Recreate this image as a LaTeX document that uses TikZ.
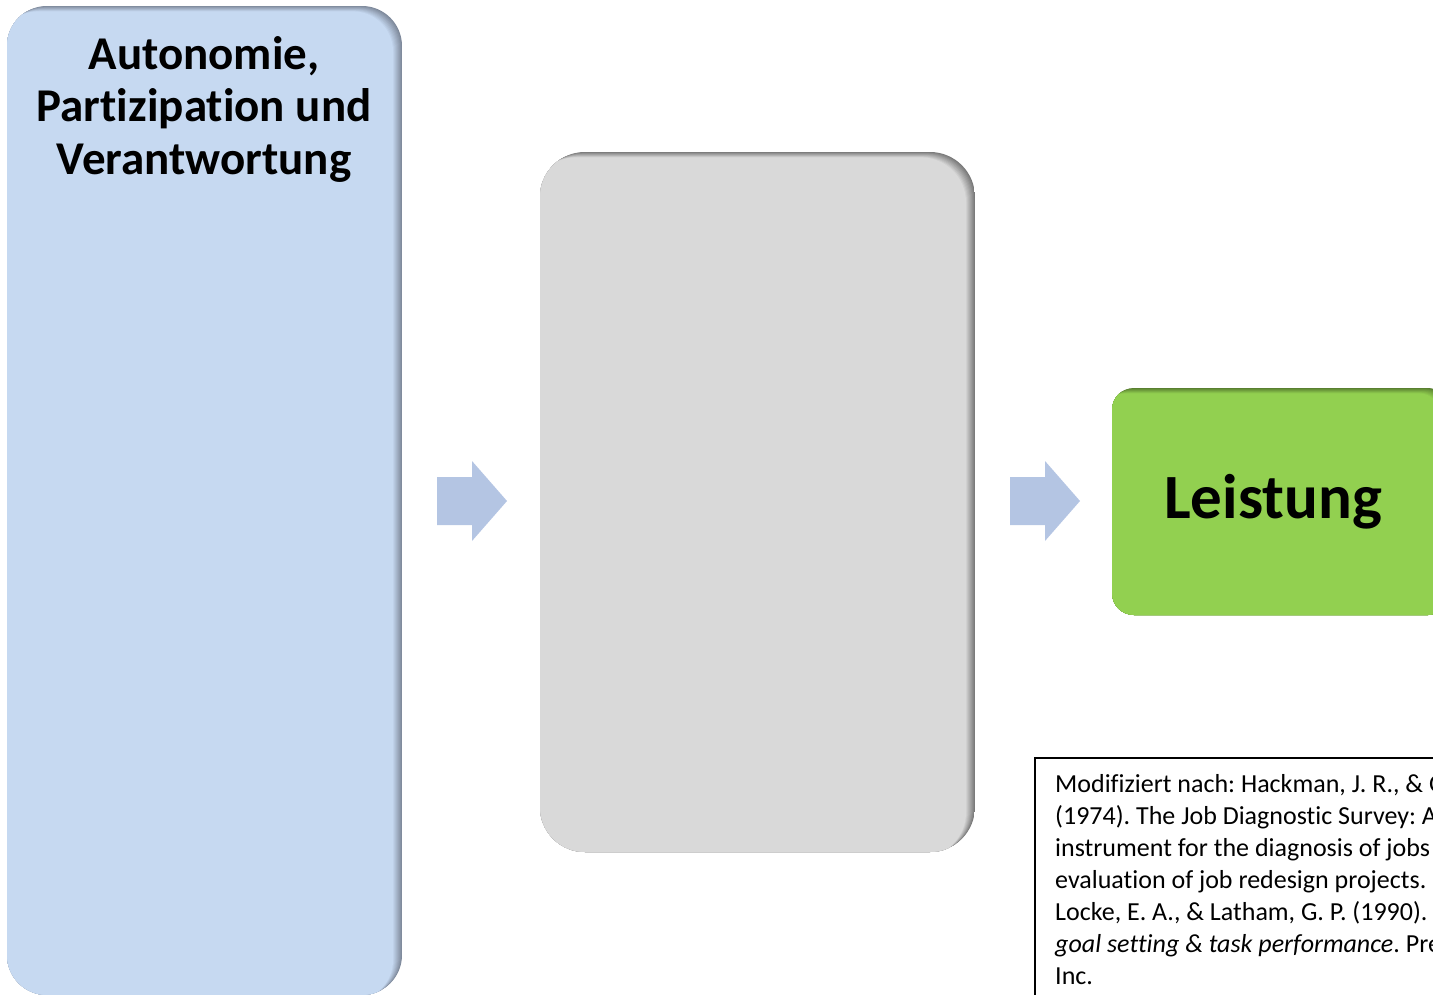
\documentclass[tikz,border=0pt]{standalone}
\usepackage{fontspec}
\setmainfont{Carlito}[Ligatures=NoCommon]
\usetikzlibrary{calc}
\frenchspacing
\definecolor{bluebox}{HTML}{C6D9F1}
\definecolor{blueedge}{HTML}{7F8A9C}
\definecolor{graybox}{HTML}{D9D9D9}
\definecolor{grayedge}{HTML}{7A7A7A}
\definecolor{greenbox}{HTML}{92D050}
\definecolor{greenedge}{HTML}{587D30}
\definecolor{arrowblue}{HTML}{B4C5E3}
\tikzset{
  box label/.style={inner sep=0pt, align=center, text=black},
  blockarrow/.style={fill=arrowblue, draw=none},
  citebox/.style={draw=black, line width=1.3pt, fill=white},
}
% shaded rounded box: #1 x0, #2 y0, #3 x1, #4 y1, #5 radius, #6 main, #7 edge
\newcommand{\shadedbox}[7]{%
  \begin{scope}
    \clip[rounded corners=#5] (#1,#2) rectangle (#3,#4);
    \fill[#7] (#1,#2) rectangle (#3,#4);
    \foreach \d in {1,...,9}{
      \pgfmathsetmacro{\mixp}{100*\d/9}
      \fill[#6!\mixp!#7, rounded corners=#5] ($(#1,#2)+(-\d,0.6*\d)$) rectangle ($(#3,#4)+(-\d,0.6*\d)$);
    }
  \end{scope}
}
\begin{document}
\begin{tikzpicture}[x=1pt,y=-1pt]
\useasboundingbox (0,0) rectangle (1433,995);
\clip (0,0) rectangle (1433,995);

% blue box
\shadedbox{7}{6}{402}{995}{40}{bluebox}{blueedge}
\node[box label, font=\bfseries\fontsize{47}{52.5}\selectfont, anchor=north] (auto) at (204,36) {Autonomie,\\Partizipation und\\Verantwortung};

% gray box
\shadedbox{540}{152}{975}{852}{45}{graybox}{grayedge}
\coordinate (mid) at (757,502);

% green box
\shadedbox{1112}{388}{1450}{615}{22}{greenbox}{greenedge}
\node[box label, font=\bfseries\fontsize{63}{70}\selectfont] (leist) at (1273,502) {Leistung};

% block arrows
\coordinate (a1) at (437,501);
\fill[blockarrow] ($(a1)+(0,-24)$) -- ($(a1)+(35,-24)$) -- ($(a1)+(35,-40)$) -- ($(a1)+(70,0)$) -- ($(a1)+(35,40)$) -- ($(a1)+(35,24)$) -- ($(a1)+(0,24)$) -- cycle;
\coordinate (a2) at (1010,501);
\fill[blockarrow] ($(a2)+(0,-24)$) -- ($(a2)+(35,-24)$) -- ($(a2)+(35,-40)$) -- ($(a2)+(70,0)$) -- ($(a2)+(35,40)$) -- ($(a2)+(35,24)$) -- ($(a2)+(0,24)$) -- cycle;

% citation box
\draw[citebox] (1035,758) rectangle (1460,1010);
\node[inner sep=0pt, anchor=north west, align=left, font=\fontsize{26}{32}\selectfont] (cite) at (1055,774)
{Modifiziert nach: Hackman, J. R., \& Oldham, G. R.\\
(1974). The Job Diagnostic Survey: An\\
instrument for the diagnosis of jobs and the\\
evaluation of job redesign projects.\\
Locke, E. A., \& Latham, G. P. (1990). A theory of\\
\textit{goal setting \& task performance}. Prentice-Hall,\\
Inc.};
\end{tikzpicture}
\end{document}
